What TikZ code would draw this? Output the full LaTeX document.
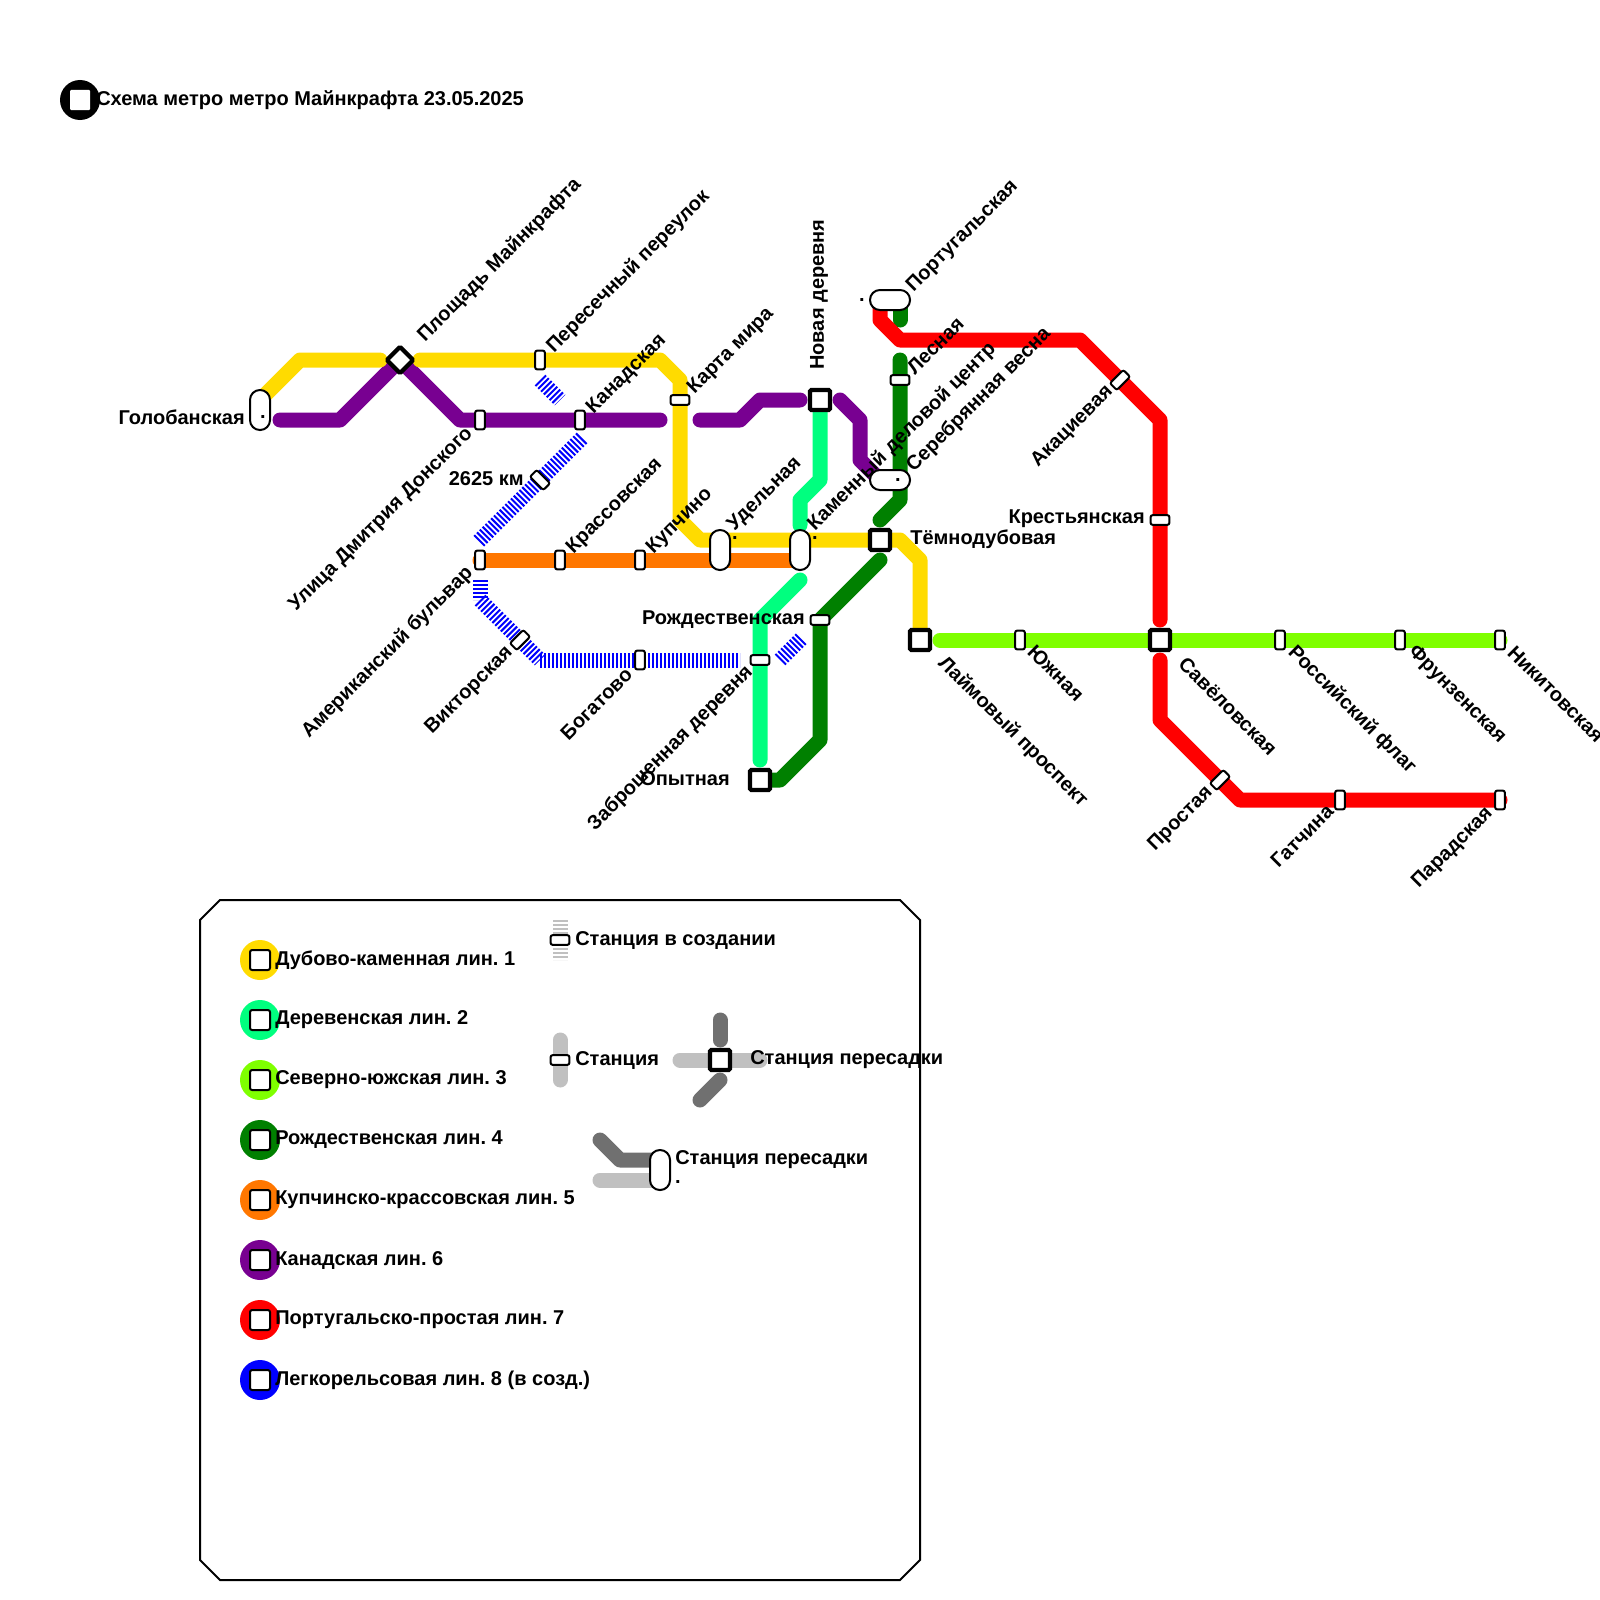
\documentclass[tikz,border=0pt]{standalone}
\usepackage{fontspec}
\setmainfont{Liberation Sans}
\frenchspacing
\usetikzlibrary{backgrounds}
\definecolor{lineone}{RGB}{255,219,0}
\definecolor{linetwo}{RGB}{0,255,127}
\definecolor{linethree}{RGB}{127,255,0}
\definecolor{linefour}{RGB}{0,128,0}
\definecolor{linefive}{RGB}{255,119,0}
\definecolor{linesix}{RGB}{120,0,145}
\definecolor{lineseven}{RGB}{255,0,0}
\definecolor{lineeight}{RGB}{0,0,255}
\definecolor{keydark}{RGB}{112,112,112}
\definecolor{keylight}{RGB}{192,192,192}
\tikzset{
  lin/.style={line width=10.5pt, line cap=round, line join=round},
  build/.style={line width=10.5pt, dash pattern=on 1.4pt off 1.4pt},
  stn/.style={rectangle, draw=black, fill=white, line width=1.4pt, rounded corners=1.5pt,
              minimum width=6.8pt, minimum height=13.2pt, inner sep=0pt},
  ovl/.style={rectangle, draw=black, fill=white, line width=1.4pt, rounded corners=6.9pt,
              minimum width=14pt, minimum height=28pt, inner sep=0pt},
  sqr/.style={rectangle, draw=black, fill=white, line width=3pt, rounded corners=1pt,
              minimum size=14pt, inner sep=0pt},
  keysqr/.style={rectangle, draw=black, fill=white, line width=1.4pt, rounded corners=1.5pt,
              minimum size=14pt, inner sep=0pt},
  keydot/.style={circle, minimum size=28pt, inner sep=0pt},
  lab/.style={font=\bfseries\fontsize{14}{16}\selectfont, inner sep=0pt},
}

\begin{document}
\begin{tikzpicture}[x=0.7pt, y=-0.7pt]
    \useasboundingbox (0,0) rectangle (1600,1600);
    % title
    \node[keydot, fill=black] (logo) at (80,100) {};
    \node[keysqr, minimum size=14pt, draw=none, rounded corners=0.7pt] (logosq) at (80,100) {};
    \node[lab, anchor=west] (title) at (96,100) {Схема метро метро Майнкрафта 23.05.2025};

    % stations
    \node[ovl] (golo) at (260,410) {};
    \node[sqr, rotate=45, minimum size=13pt] (plosh) at (400,360) {};
    \node[stn] (peres) at (540,360) {};
    \node[stn] (donsk) at (480,420) {};
    \node[stn] (kanad) at (580,420) {};
    \node[stn, rotate=90] (karta) at (680,400) {};
    \node[stn, rotate=45] (km) at (540,480) {};
    \node[stn] (amer) at (480,560) {};
    \node[stn] (krass) at (560,560) {};
    \node[stn] (kupch) at (640,560) {};
    \node[ovl] (udel) at (720,550) {};
    \node[ovl] (kamen) at (800,550) {};
    \node[stn, rotate=-45] (vikt) at (520,640) {};
    \node[stn] (bogat) at (640,660) {};
    \node[stn, rotate=90] (zabr) at (760,660) {};
    \node[sqr] (opyt) at (760,780) {};
    \node[stn, rotate=90] (rozhd) at (820,620) {};
    \node[sqr] (novay) at (820,400) {};
    \node[ovl, rotate=90] (portu) at (890,300) {};
    \node[stn, rotate=90] (lesn) at (900,380) {};
    \node[ovl, rotate=90] (serebr) at (890,480) {};
    \node[sqr] (temno) at (880,540) {};
    \node[sqr] (laim) at (920,640) {};
    \node[stn] (yuzh) at (1020,640) {};
    \node[sqr] (savel) at (1160,640) {};
    \node[stn] (ross) at (1280,640) {};
    \node[stn] (frunz) at (1400,640) {};
    \node[stn] (nikit) at (1500,640) {};
    \node[stn, rotate=-45] (akac) at (1120,380) {};
    \node[stn, rotate=90] (krest) at (1160,520) {};
    \node[stn, rotate=-45] (prost) at (1220,780) {};
    \node[stn] (gatch) at (1340,800) {};
    \node[stn] (parad) at (1500,800) {};

    % bends and free ends
    \coordinate (y0) at (260,400); \coordinate (y1) at (300,360); \coordinate (y2) at (380,360);
    \coordinate (y3) at (420,360); \coordinate (y4) at (660,360); \coordinate (y5) at (680,380);
    \coordinate (y6) at (680,520); \coordinate (y7) at (700,540); \coordinate (y8) at (900,540);
    \coordinate (y9) at (920,560);
    \coordinate (s0) at (820,480); \coordinate (s1) at (800,500); \coordinate (s2) at (800,525);
    \coordinate (s3) at (800,580); \coordinate (s4) at (760,620); \coordinate (s5) at (760,760);
    \coordinate (c0) at (940,640);
    \coordinate (g0) at (900,300); \coordinate (g1) at (900,320); \coordinate (g2) at (900,360);
    \coordinate (g3) at (900,500); \coordinate (g4) at (880,520); \coordinate (g5) at (880,560);
    \coordinate (g6) at (820,740); \coordinate (g7) at (780,780);
    \coordinate (o0) at (800,560);
    \coordinate (p0) at (280,420); \coordinate (p1) at (340,420); \coordinate (p2) at (460,420);
    \coordinate (p3) at (660,420); \coordinate (p4) at (700,420); \coordinate (p5) at (740,420);
    \coordinate (p6) at (760,400); \coordinate (p7) at (800,400); \coordinate (p8) at (840,400);
    \coordinate (p9) at (860,420); \coordinate (p10) at (860,460); \coordinate (p11) at (880,480);
    \coordinate (r0) at (880,300); \coordinate (r1) at (880,320); \coordinate (r2) at (900,340);
    \coordinate (r3) at (1080,340); \coordinate (r4) at (1160,420); \coordinate (r5) at (1160,620);
    \coordinate (r6) at (1160,660); \coordinate (r7) at (1160,720); \coordinate (r8) at (1240,800);
    \coordinate (b0) at (540,380); \coordinate (b1) at (560,400); \coordinate (b2) at (582,438);
    \coordinate (b3) at (478,542); \coordinate (b4) at (480,580); \coordinate (b5) at (480,600);
    \coordinate (b6) at (540,660); \coordinate (b7) at (740,660); \coordinate (b8) at (780,660);
    \coordinate (b9) at (802,638);

    % labels
    \node[lab, anchor=east] (tgolo) at (245,417) {Голобанская};
    \node[lab] (dgolo) at (263,417) {.};
    \node[lab, rotate=45, anchor=west] (tplosh) at (421,339) {Площадь Майнкрафта};
    \node[lab, rotate=45, anchor=west] (tperes) at (550,350) {Пересечный переулок};
    \node[lab, rotate=45, anchor=west] (tkanad) at (590,411) {Канадская};
    \node[lab, rotate=45, anchor=west] (tkarta) at (691,391) {Карта мира};
    \node[lab, rotate=45, anchor=west] (tkrass) at (570,551) {Крассовская};
    \node[lab, rotate=45, anchor=west] (tkupch) at (650,551) {Купчино};
    \node[lab, rotate=45, anchor=west] (tudel) at (731,528) {Удельная};
    \node[lab] (dudel) at (735,538) {.};
    \node[lab, rotate=45, anchor=west] (tkamen) at (811,528) {Каменный деловой центр};
    \node[lab] (dkamen) at (815,538) {.};
    \node[lab, rotate=90, anchor=west] (tnovay) at (819,370) {Новая деревня};
    \node[lab, rotate=45, anchor=west] (tportu) at (910,289) {Португальская};
    \node[lab] (dportu) at (862,300) {.};
    \node[lab, rotate=45, anchor=west] (tlesn) at (910,371) {Лесная};
    \node[lab, rotate=45, anchor=west] (tserebr) at (910,469) {Серебрянная весна};
    \node[lab] (dserebr) at (898,480) {.};
    \node[lab, anchor=west] (ttemno) at (910,539) {Тёмнодубовая};
    \node[lab, anchor=east] (tkrest) at (1145,519) {Крестьянская};
    \node[lab, anchor=east] (trozhd) at (805,620) {Рождественская};
    \node[lab, anchor=east] (topyt) at (730,779) {Опытная};
    \node[lab, anchor=east] (tkm) at (524,479) {2625 км};
    \node[lab, rotate=45, anchor=east] (tdonsk) at (470,431) {Улица Дмитрия Донского};
    \node[lab, rotate=45, anchor=east] (tamer) at (470,570) {Американский бульвар};
    \node[lab, rotate=45, anchor=east] (tvikt) at (510,650) {Викторская};
    \node[lab, rotate=45, anchor=east] (tbogat) at (629,671) {Богатово};
    \node[lab, rotate=45, anchor=east] (tzabr) at (750,669) {Заброшенная деревня};
    \node[lab, rotate=45, anchor=east] (takac) at (1110,389) {Акациевая};
    \node[lab, rotate=45, anchor=east] (tprost) at (1210,790) {Простая};
    \node[lab, rotate=45, anchor=east] (tgatch) at (1330,808) {Гатчина};
    \node[lab, rotate=45, anchor=east] (tparad) at (1490,811) {Парадская};
    \node[lab, rotate=-45, anchor=west] (tlaim) at (941,660) {Лаймовый проспект};
    \node[lab, rotate=-45, anchor=west] (tyuzh) at (1031,648) {Южная};
    \node[lab, rotate=-45, anchor=west] (tsavel) at (1182,660) {Савёловская};
    \node[lab, rotate=-45, anchor=west] (tross) at (1291,649) {Российский флаг};
    \node[lab, rotate=-45, anchor=west] (tfrunz) at (1411,649) {Фрунзенская};
    \node[lab, rotate=-45, anchor=west] (tnikit) at (1511,649) {Никитовская};

    % legend
    \draw[line width=1.4pt] (220,900)--(900,900)--(920,920)--(920,1560)--(900,1580)--(220,1580)--(200,1560)--(200,920)--cycle;
    \node[keydot, fill=lineone] (k1) at (260,960) {};
    \node[keydot, fill=linetwo] (k2) at (260,1020) {};
    \node[keydot, fill=linethree] (k3) at (260,1080) {};
    \node[keydot, fill=linefour] (k4) at (260,1140) {};
    \node[keydot, fill=linefive] (k5) at (260,1200) {};
    \node[keydot, fill=linesix] (k6) at (260,1260) {};
    \node[keydot, fill=lineseven] (k7) at (260,1320) {};
    \node[keydot, fill=lineeight] (k8) at (260,1380) {};
    \node[keysqr] (q1) at (260,960) {};
    \node[keysqr] (q2) at (260,1020) {};
    \node[keysqr] (q3) at (260,1080) {};
    \node[keysqr] (q4) at (260,1140) {};
    \node[keysqr] (q5) at (260,1200) {};
    \node[keysqr] (q6) at (260,1260) {};
    \node[keysqr] (q7) at (260,1320) {};
    \node[keysqr] (q8) at (260,1380) {};
    \node[lab, anchor=west] (n1) at (275,960) {Дубово-каменная лин. 1};
    \node[lab, anchor=west] (n2) at (275,1020) {Деревенская лин. 2};
    \node[lab, anchor=west] (n3) at (275,1080) {Северно-южская лин. 3};
    \node[lab, anchor=west] (n4) at (275,1140) {Рождественская лин. 4};
    \node[lab, anchor=west] (n5) at (275,1200) {Купчинско-крассовская лин. 5};
    \node[lab, anchor=west] (n6) at (275,1260) {Канадская лин. 6};
    \node[lab, anchor=west] (n7) at (275,1320) {Португальско-простая лин. 7};
    \node[lab, anchor=west] (n8) at (275,1380) {Легкорельсовая лин. 8 (в созд.)};

    \node[stn, rotate=90] (ka) at (560,940) {};
    \node[stn, rotate=90] (kb) at (560,1060) {};
    \node[sqr] (kc) at (720,1060) {};
    \node[ovl] (kd) at (660,1170) {};
    \node[lab, anchor=west] (na) at (575,940) {Станция в создании};
    \node[lab, anchor=west] (nb) at (575,1060) {Станция};
    \node[lab, anchor=west] (nc) at (750,1060) {Станция пересадки};
    \node[lab, anchor=west] (nd) at (675,1160) {Станция пересадки};
    \node[lab] (de) at (678,1182) {.};
    \coordinate (a0) at (560,920); \coordinate (a1) at (560,960);
    \coordinate (a2) at (560,1040); \coordinate (a3) at (560,1080);
    \coordinate (a4) at (680,1060); \coordinate (a5) at (760,1060);
    \coordinate (a6) at (720,1020); \coordinate (a7) at (720,1040);
    \coordinate (a8) at (720,1080); \coordinate (a9) at (700,1100);
    \coordinate (a10) at (600,1140); \coordinate (a11) at (620,1160); \coordinate (a12) at (660,1160);
    \coordinate (a13) at (600,1180); \coordinate (a14) at (660,1180);

    \begin{scope}[on background layer]
      \draw[build, draw=keylight] (a0)--(a1);
      \draw[lin, draw=keylight] (a2)--(a3);
      \draw[lin, draw=keylight] (a4)--(a5);
      \draw[lin, draw=keydark] (a6)--(a7);
      \draw[lin, draw=keydark] (a8)--(a9);
      \draw[lin, draw=keydark] (a10)--(a11)--(a12);
      \draw[lin, draw=keylight] (a13)--(a14);

      \draw[build, draw=lineeight] (b0)--(b1);
      \draw[build, draw=lineeight] (b2)--(b3);
      \draw[build, draw=lineeight] (b4)--(b5);
      \draw[build, draw=lineeight] (b5)--(b6);
      \draw[build, draw=lineeight] (b6)--(b7);
      \draw[build, draw=lineeight] (b8)--(b9);

      \draw[lin, draw=linefive] (amer.center)--(o0);
      \draw[lin, draw=linethree] (c0)--(nikit.center);
      \draw[lin, draw=linetwo] (novay.center)--(s0)--(s1)--(s2);
      \draw[lin, draw=linetwo] (s3)--(s4)--(s5);
      \draw[lin, draw=linefour] (g0)--(g1);
      \draw[lin, draw=linefour] (g2)--(g3)--(g4);
      \draw[lin, draw=linefour] (g5)--(rozhd.center)--(g6)--(g7)--(opyt.center);
      \draw[lin, draw=linesix] (p0)--(p1)--(plosh.center)--(p2)--(p3);
      \draw[lin, draw=linesix] (p4)--(p5)--(p6)--(p7);
      \draw[lin, draw=linesix] (p8)--(p9)--(p10)--(p11);
      \draw[lin, draw=lineseven] (r0)--(r1)--(r2)--(r3)--(r4)--(r5);
      \draw[lin, draw=lineseven] (r6)--(r7)--(r8)--(parad.center);
      \draw[lin, draw=lineone] (y0)--(y1)--(y2);
      \draw[lin, draw=lineone] (y3)--(y4)--(y5)--(y6)--(y7)--(y8)--(y9)--(laim.center);
    \end{scope}
  \end{tikzpicture}
\end{document}
